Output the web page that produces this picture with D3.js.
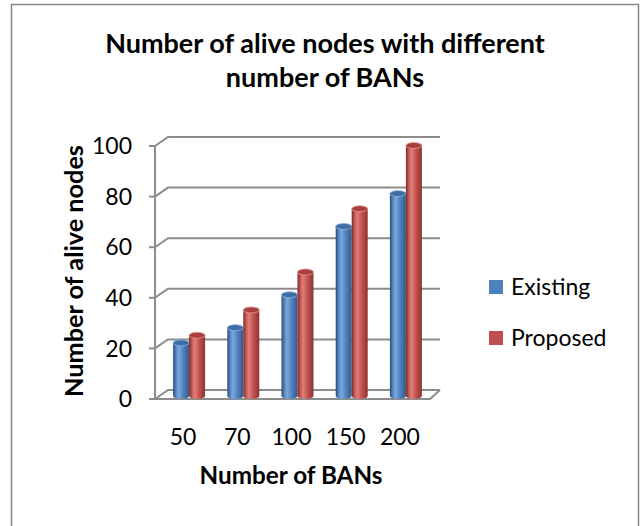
<!DOCTYPE html>
<html>
<head>
<meta charset="utf-8">
<script src="https://cdn.jsdelivr.net/npm/d3@7"></script>
<style>
  body { margin: 0; background: #fff; }
  svg text { font-family: Lato, "Open Sans", sans-serif; fill: #000; }
</style>
</head>
<body>
<div id="canvas"></div>
<script>
// chart data
var categories = ['50', '70', '100', '150', '200'];
var seriesNames = ['Existing', 'Proposed'];
var existing = [21, 27, 40, 67, 80];
var proposed = [24, 34, 49, 74, 99];
var yTicks = [0, 20, 40, 60, 80, 100];
var seriesColors = ['#4F81BD', '#C0504D'];

var W = 643, H = 526;
var depth = {x: 13, y: -9};   // offset of the back wall

var svg = d3.select('#canvas').append('svg')
    .attr('width', W).attr('height', H);

// outer frame
svg.append('rect')
    .attr('x', 11.5).attr('y', 4.5)
    .attr('width', 627).attr('height', 530)
    .style('fill', 'none').style('stroke', '#878787').style('stroke-width', 1.5);

// scales
var yFront = d3.scaleLinear().domain([0, 100]).range([399, 146]);
var yBar = d3.scaleLinear().domain([0, 100]).range([396, 143]);
var x = d3.scaleBand().domain(categories).range([162, 433]);
var xInner = d3.scaleBand().domain(seriesNames).range([-16, 16]);

var grey = '#8c8c8c';
var plot = svg.append('g').attr('class', 'plot');

// back wall gridlines + side wall diagonals
plot.selectAll('.grid')
    .data(yTicks).enter()
    .append('polyline').attr('class', 'grid')
    .attr('points', function(d){
        var y = yFront(d);
        return [[155, y], [155 + depth.x, y + depth.y], [440, y + depth.y]].join(' ');
    })
    .style('fill', 'none').style('stroke', grey).style('stroke-width', 2);

// floor
plot.append('polyline')
    .attr('points', [[155, yFront(0)], [430, yFront(0)], [430 + 10, yFront(0) + depth.y]].join(' '))
    .style('fill', 'none').style('stroke', grey).style('stroke-width', 2);

// front vertical axis and ticks
plot.append('line')
    .attr('x1', 155).attr('x2', 155)
    .attr('y1', yFront(100)).attr('y2', yFront(0))
    .style('stroke', grey).style('stroke-width', 2);
plot.selectAll('.tick')
    .data(yTicks).enter()
    .append('line').attr('class', 'tick')
    .attr('x1', 149).attr('x2', 155)
    .attr('y1', function(d){ return yFront(d); })
    .attr('y2', function(d){ return yFront(d); })
    .style('stroke', grey).style('stroke-width', 2);

svg.selectAll('.ylabel')
    .data(yTicks).enter()
    .append('text').attr('class', 'ylabel')
    .attr('x', 132)
    .attr('y', function(d){ return yFront(d); })
    .attr('dy', '0.36em')
    .attr('text-anchor', 'end')
    .style('font-size', '23px')
    .text(function(d){ return d; });

// cylinder gradients
var defs = svg.append('defs');
var shades = [
    {id: 'cyl0', stops: ['#2b4c77', '#5d8fcb', '#7aa7dc', '#4f81bd', '#34598a']},
    {id: 'cyl1', stops: ['#7a2b29', '#cf625f', '#de7f7b', '#c0504d', '#8a3533']}
];
shades.forEach(function(s){
    var g = defs.append('linearGradient').attr('id', s.id)
        .attr('x1', '0%').attr('x2', '100%').attr('y1', '0%').attr('y2', '0%');
    [0, 0.22, 0.35, 0.65, 1].forEach(function(o, i){
        g.append('stop').attr('offset', o).attr('stop-color', s.stops[i]);
    });
});
var topFill = ['#3f6da6', '#a9403d'];
var rimColor = ['#8fb4e3', '#e59a97'];

var rows = categories.map(function(c, i){
    return {cat: c, values: [existing[i], proposed[i]]};
});

var groups = plot.selectAll('.cat')
    .data(rows).enter()
    .append('g').attr('class', 'cat')
    .attr('transform', function(d){ return 'translate(' + (x(d.cat) + x.bandwidth() / 2) + ',0)'; });

var ry = 3;
var bars = groups.selectAll('.bar')
    .data(function(d){
        return d.values.map(function(v, j){ return {series: seriesNames[j], j: j, value: v}; });
    })
    .enter().append('g').attr('class', 'bar');

bars.append('path')
    .attr('d', function(d){
        var x0 = xInner(d.series), w = xInner.bandwidth(), rx = w / 2;
        var yt = yBar(d.value), yb = yBar(0);
        return 'M' + x0 + ',' + yt +
            'L' + x0 + ',' + yb +
            'A' + rx + ',' + ry + ' 0 0 0 ' + (x0 + w) + ',' + yb +
            'L' + (x0 + w) + ',' + yt + 'Z';
    })
    .style('fill', function(d){ return 'url(#cyl' + d.j + ')'; });

bars.append('ellipse')
    .attr('cx', function(d){ return xInner(d.series) + xInner.bandwidth() / 2; })
    .attr('cy', function(d){ return yBar(d.value); })
    .attr('rx', xInner.bandwidth() / 2)
    .attr('ry', ry)
    .style('fill', function(d){ return topFill[d.j]; })
    .style('stroke', function(d){ return rimColor[d.j]; })
    .style('stroke-width', 0.8);

// category labels (front plane)
svg.selectAll('.xlabel')
    .data(categories).enter()
    .append('text').attr('class', 'xlabel')
    .attr('x', function(d){ return x(d) + x.bandwidth() / 2 - 6; })
    .attr('y', 437)
    .attr('dy', '0.36em')
    .attr('text-anchor', 'middle')
    .style('font-size', '23px')
    .text(function(d){ return d; });

// fit bold text to a measured width
function fitText(sel, width){
    var len = sel.node().getComputedTextLength();
    var fs = parseFloat(sel.style('font-size'));
    sel.style('font-size', (fs * width / len) + 'px');
}

var t1 = svg.append('text').attr('x', 325).attr('y', 53)
    .attr('text-anchor', 'middle').style('font-weight', 'bold').style('font-size', '24px')
    .text('Number of alive nodes with different');
fitText(t1, 440);
svg.append('text').attr('x', 325).attr('y', 87)
    .attr('text-anchor', 'middle').style('font-weight', 'bold')
    .style('font-size', t1.style('font-size'))
    .text('number of BANs');

var xt = svg.append('text').attr('x', 291).attr('y', 484)
    .attr('text-anchor', 'middle').style('font-weight', 'bold').style('font-size', '22px')
    .text('Number of BANs');
fitText(xt, 183);

var yt = svg.append('text')
    .attr('transform', 'translate(83,271) rotate(-90)')
    .attr('text-anchor', 'middle').style('font-weight', 'bold').style('font-size', '22px')
    .text('Number of alive nodes');
fitText(yt, 252);

// legend
var legend = svg.selectAll('.legend')
    .data(seriesNames).enter()
    .append('g').attr('class', 'legend')
    .attr('transform', function(d, i){ return 'translate(489,' + (287 + i * 51) + ')'; });
legend.append('rect')
    .attr('x', 0).attr('y', -7).attr('width', 14).attr('height', 14)
    .style('fill', function(d, i){ return seriesColors[i]; });
legend.append('text')
    .attr('x', 22).attr('dy', '0.36em')
    .style('font-size', '23px')
    .text(function(d){ return d; });
</script>
</body>
</html>
